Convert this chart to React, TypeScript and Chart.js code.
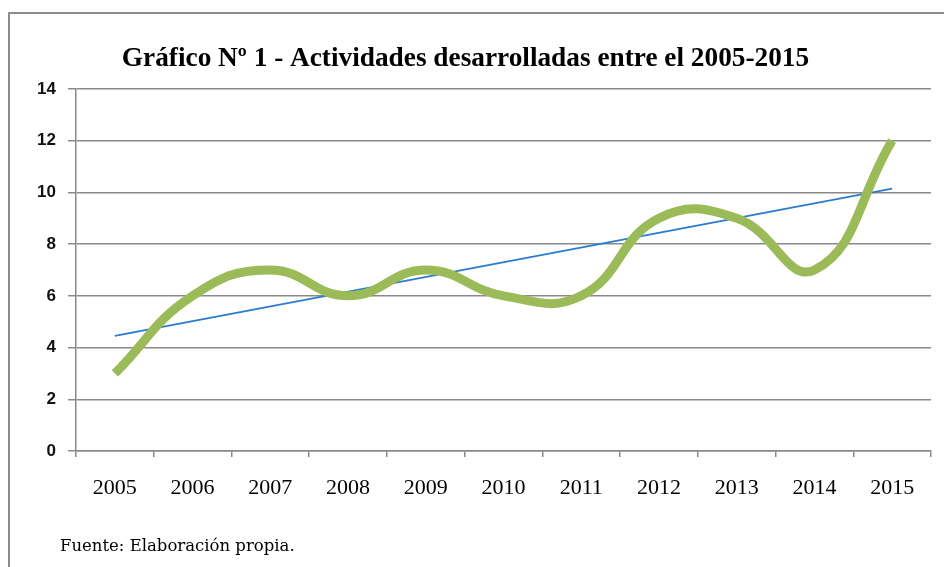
import React, { useEffect, useRef } from "react";
import { Chart, registerables } from "chart.js";

Chart.register(...registerables);

const categories = ["2005", "2006", "2007", "2008", "2009", "2010", "2011", "2012", "2013", "2014", "2015"];
const activities = [3, 6, 7, 6, 7, 6, 6, 9, 9, 7, 12];
const trend = [4.45, null, null, null, null, null, null, null, null, null, 10.15];
const titleText = "Gráfico Nº 1 - Actividades desarrolladas entre el 2005-2015";
const sourceText = "Fuente: Elaboración propia.";

export default function App() {
  const ref = useRef<HTMLCanvasElement>(null);

  useEffect(() => {
    if (!ref.current) return;
    const grey = "#8a8a8a";
    const chart = new Chart(ref.current, {
      type: "line",
      data: {
        labels: categories,
        datasets: [
          {
            label: "Actividades",
            data: activities,
            borderColor: "#9BBB59",
            borderWidth: 9,
            tension: 0.45,
            pointRadius: 0,
            borderCapStyle: "butt",
            fill: false,
          },
          {
            label: "Tendencia",
            data: trend,
            borderColor: "#2A7CCF",
            borderWidth: 1.8,
            spanGaps: true,
            pointRadius: 0,
            tension: 0,
            fill: false,
          },
        ],
      },
      options: {
        responsive: false,
        animation: false,
        layout: { padding: { left: 0, right: 13, top: 0, bottom: 0 } },
        plugins: {
          legend: { display: false },
          tooltip: { enabled: false },
          title: {
            display: true,
            text: titleText,
            color: "#000",
            font: { family: "'Liberation Serif', 'Times New Roman', serif", size: 27.3, weight: "bold", lineHeight: 1.2 },
            padding: { top: 43, bottom: 13.2 },
          },
        },
        scales: {
          x: {
            offset: true,
            grid: {
              offset: true,
              drawOnChartArea: false,
              drawTicks: true,
              tickLength: 6,
              color: grey,
              lineWidth: 1.5,
            },
            border: { display: true, color: grey, width: 1.5 },
            ticks: {
              color: "#000",
              font: { family: "'Liberation Serif', 'Times New Roman', serif", size: 22 },
              padding: 18,
              maxRotation: 0,
              autoSkip: false,
            },
            afterFit: (s: any) => {
              s.height = 116;
            },
          },
          y: {
            min: 0,
            max: 14,
            ticks: {
              stepSize: 2,
              color: "#111",
              font: { family: "'Liberation Sans', Arial, sans-serif", size: 17, weight: "bold" },
              padding: 12,
            },
            grid: {
              color: grey,
              lineWidth: 1.5,
              drawTicks: true,
              tickLength: 8,
            },
            border: { display: true, color: grey, width: 1.5 },
            afterFit: (s: any) => {
              s.width = 76;
            },
          },
        },
      },
    });
    return () => chart.destroy();
  }, []);

  return (
    <div style={{ position: "fixed", left: 0, top: 0, width: 944, height: 567, background: "#fff", overflow: "hidden" }}>
      <div
        style={{
          position: "absolute",
          left: 8,
          top: 12,
          width: 960,
          height: 600,
          borderTop: "2px solid #8c8c8c",
          borderLeft: "2px solid #8c8c8c",
        }}
      />
      <canvas ref={ref} width={944} height={567} style={{ position: "absolute", left: 0, top: 0 }} />
      <div
        style={{
          position: "absolute",
          left: 60,
          top: 536,
          fontFamily: "'DejaVu Serif', serif",
          fontSize: 16.5,
          color: "#000",
          whiteSpace: "nowrap",
        }}
      >
        {sourceText}
      </div>
    </div>
  );
}
